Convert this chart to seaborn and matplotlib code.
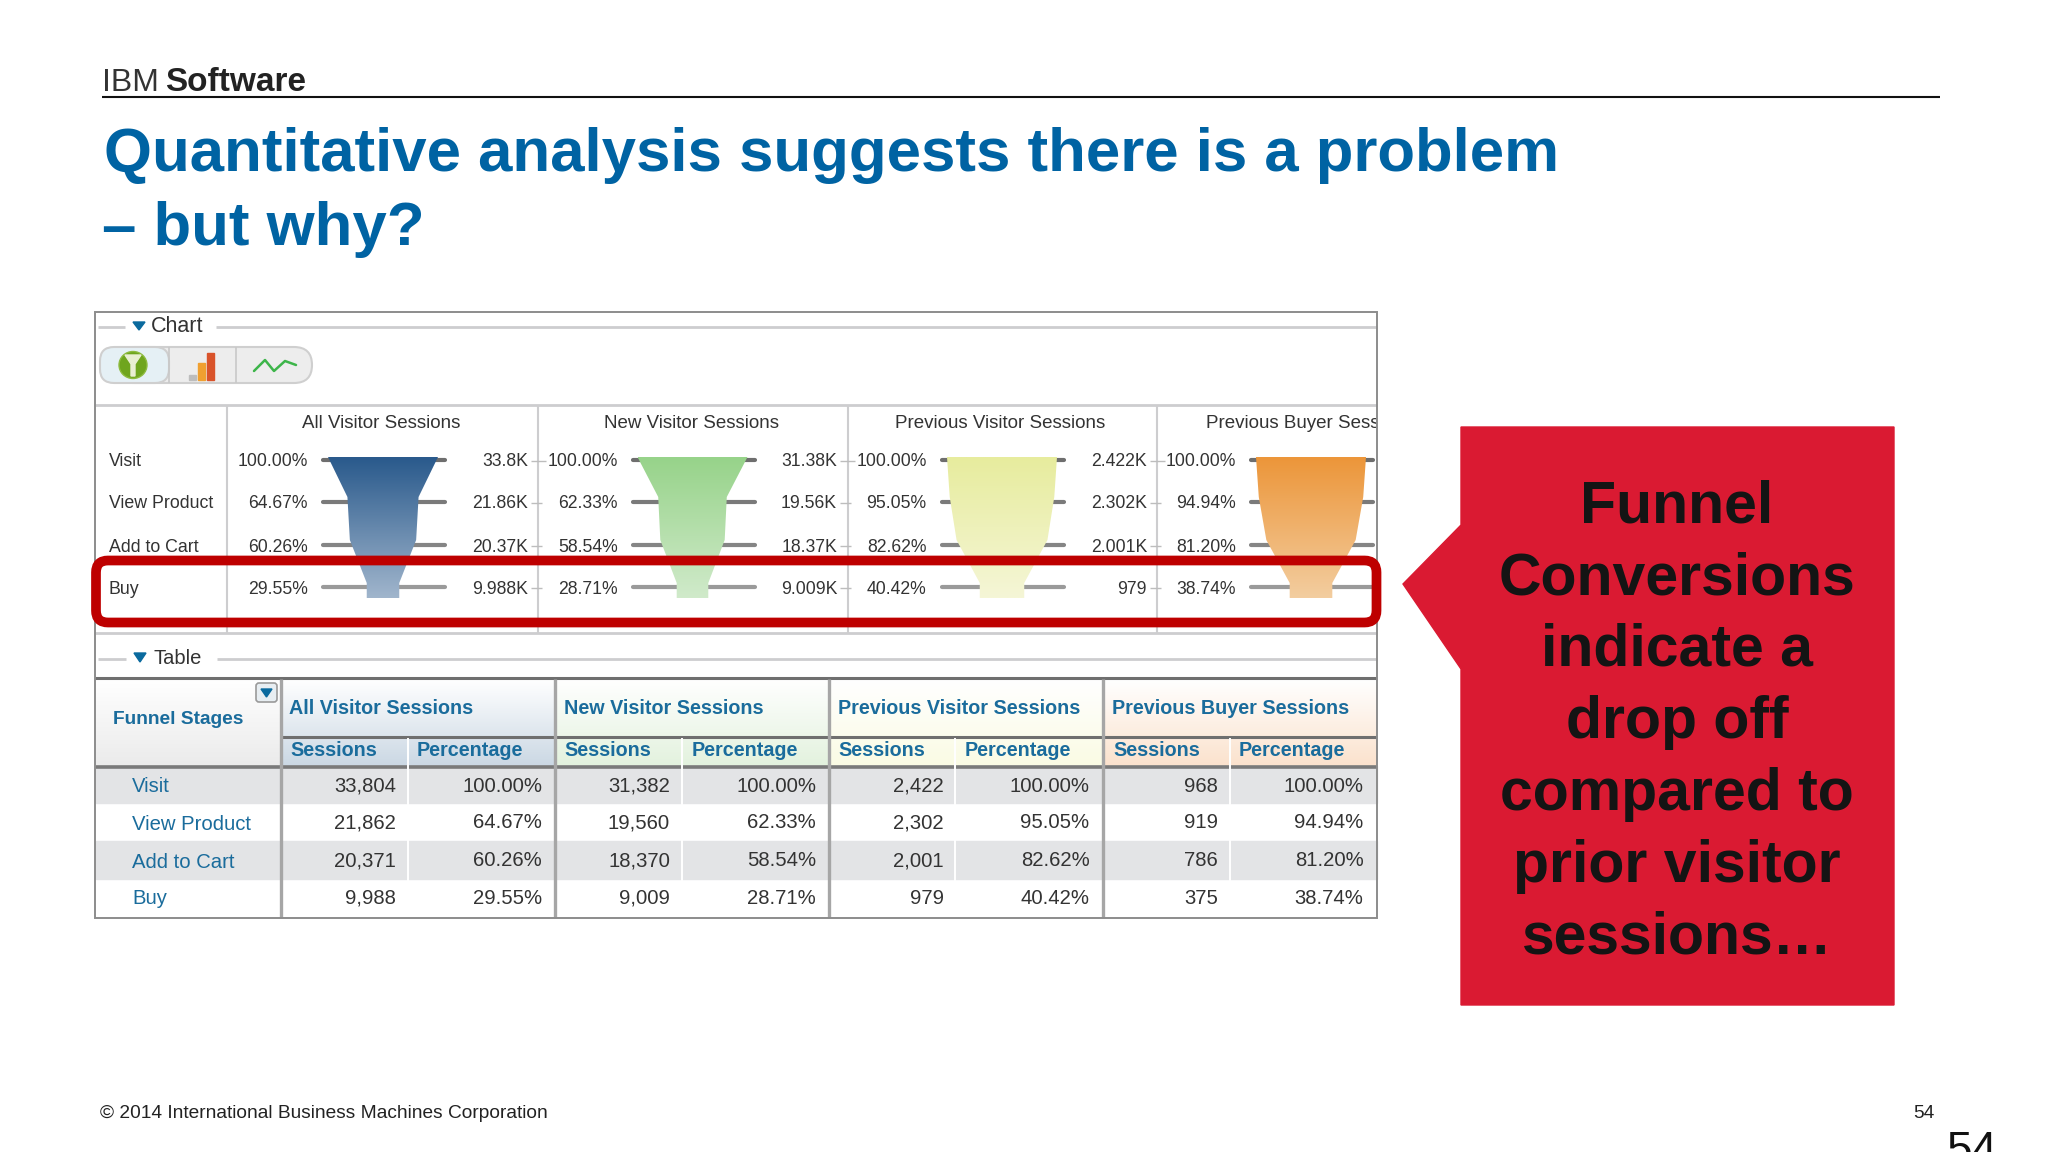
import numpy as np
import pandas as pd
import matplotlib
matplotlib.use('Agg')
import matplotlib.pyplot as plt
import seaborn as sns
from matplotlib.patches import Rectangle, Polygon, FancyBboxPatch, Ellipse

# === data ===
STAGES = ['Visit', 'View Product', 'Add to Cart', 'Buy']
SEGMENTS = ['All Visitor Sessions', 'New Visitor Sessions',
            'Previous Visitor Sessions', 'Previous Buyer Sessions']

SESSIONS_ALL = ['33,804', '21,862', '20,371', '9,988']
SESSIONS_NEW = ['31,382', '19,560', '18,370', '9,009']
SESSIONS_PREV = ['2,422', '2,302', '2,001', '979']
SESSIONS_BUYER = ['968', '919', '786', '375']

PCT_ALL = [100.00, 64.67, 60.26, 29.55]
PCT_NEW = [100.00, 62.33, 58.54, 28.71]
PCT_PREV = [100.00, 95.05, 82.62, 40.42]
PCT_BUYER = [100.00, 94.94, 81.20, 38.74]

SHORT_ALL = ['33.8K', '21.86K', '20.37K', '9.988K']
SHORT_NEW = ['31.38K', '19.56K', '18.37K', '9.009K']
SHORT_PREV = ['2.422K', '2.302K', '2.001K', '979']
SHORT_BUYER = ['968', '919', '786', '375']

ALL_SESSIONS = [SESSIONS_ALL, SESSIONS_NEW, SESSIONS_PREV, SESSIONS_BUYER]
ALL_PCT = [PCT_ALL, PCT_NEW, PCT_PREV, PCT_BUYER]
ALL_SHORT = [SHORT_ALL, SHORT_NEW, SHORT_PREV, SHORT_BUYER]

CALLOUT = ['Funnel', 'Conversions', 'indicate a', 'drop off',
           'compared to', 'prior visitor', 'sessions…']

# === colours ===
TITLE_BLUE = '#0063A3'
LINK_BLUE = '#1A6C9C'
TXT = '#333333'
RED = '#DA1A32'
BOX_RED = '#BE0000'
FRAME = '#8C8C8C'
LIGHT = '#CDCDCF'
BAND = '#E3E4E6'
FUNNEL_COLS = [('#2A5A8C', '#A0B5CC'), ('#97D38A', '#D0EACA'),
               ('#E7EC9E', '#F5F6D6'), ('#EC963A', '#F3CD9F')]
HEAD_COLS = ['#CBD8E4', '#E3F2DE', '#FAFBE4', '#FBE2CD']
LINE_COLS = dict(zip(STAGES, ['#6E6E6E', '#7A7A7A', '#858585', '#9A9A9A']))

sns.set_theme(style='white')
plt.rcParams['font.family'] = ['Liberation Sans', 'DejaVu Sans']

W, H = 2048, 1152
fig = plt.figure(figsize=(W / 100, H / 100), dpi=100, facecolor='white')
ax = fig.add_axes([0, 0, 1, 1])


def vgrad(x0, x1, y0, y1, c0, c1, clip=None, z=1):
    cols = np.array(sns.blend_palette([c0, c1], 64))[:, None, :]
    im = ax.imshow(cols, extent=(x0, x1, y1, y0), aspect='auto',
                   origin='upper', interpolation='bilinear', zorder=z)
    if clip is not None:
        clip.set_transform(ax.transData)
        im.set_clip_path(clip)
    return im


def hline(x0, x1, y, color, lw, z=3):
    ax.plot([x0, x1], [y, y], color=color, lw=lw, zorder=z, solid_capstyle='butt')


def vline(x, y0, y1, color, lw, z=3):
    ax.plot([x, x], [y0, y1], color=color, lw=lw, zorder=z, solid_capstyle='butt')


# ── slide header ──
ax.text(102, 91, 'IBM', fontsize=23, color='#333333', va='baseline')
ax.text(165, 91, 'Software', fontsize=24, fontweight='bold', color='#222222', va='baseline')
hline(102, 1940, 97, '#111111', 1.5)
ax.text(104, 171, 'Quantitative analysis suggests there is a problem', fontsize=44.5,
        fontweight='bold', color=TITLE_BLUE, va='baseline')
ax.text(102, 245, '– but why?', fontsize=44.5, fontweight='bold',
        color=TITLE_BLUE, va='baseline')

# ── outer frame ──
ax.add_patch(Rectangle((95, 312), 1282, 606, fc='white', ec='none', zorder=0.5))
ax.add_patch(Rectangle((95, 312), 1282, 606, fc='none', ec=FRAME, lw=1.4, zorder=5))

# ── chart section ──
hline(216, 1377, 327, LIGHT, 2)
hline(98, 125, 327, LIGHT, 2)
ax.add_patch(Polygon([(133, 322), (145, 322), (139, 330)], color='#0A6A9E', zorder=3))
ax.text(151, 327, 'Chart', fontsize=15.5, color=TXT, va='center')

# toolbar icons
ax.add_patch(FancyBboxPatch((116, 347), 196, 36, boxstyle='round,pad=0,rounding_size=18',
                            fc='#EDEDED', ec='#CFCFCF', lw=1.5, zorder=2,
                            mutation_aspect=1))
ax.add_patch(FancyBboxPatch((100, 347), 69, 36, boxstyle='round,pad=0,rounding_size=14',
                            fc='#E5F0F5', ec='#CFCFCF', lw=1.5, zorder=2.1))
vline(169, 347, 383, '#C8C8C8', 1.2)
vline(236, 347, 383, '#C8C8C8', 1.2)
ax.add_patch(Ellipse((133, 365), 28, 27, fc='#6FA51E', ec='#8DBB3E', lw=1, zorder=3))
ax.add_patch(Polygon([(125, 355), (141, 355), (135, 364), (135, 376), (131, 376), (131, 364)],
                     color='#E9EFD2', zorder=4))
for bx, tp, col in [(189, 375, '#BDBDBD'), (198, 363, '#F0A030'), (207, 353, '#D9532A')]:
    ax.add_patch(Rectangle((bx, tp), 7, 380 - tp, color=col, zorder=3))
ax.plot([254, 265, 274, 285, 296], [371, 360, 371, 361, 365], color='#3DB54A', lw=1.8, zorder=3)

# ── funnel panels ──
hline(95, 1377, 405, LIGHT, 2)
hline(95, 1377, 633, LIGHT, 2)
for x in [227, 538, 848, 1157]:
    vline(x, 405, 633, LIGHT, 1.5)

ROW_Y = [460, 502, 545, 587]
TXT_Y = [462, 504, 547, 589]
FUNNEL_CX = [383, 692.5, 1002, 1311]
FUNNEL_W = 110
PCT_X = [308, 618, 926.5, 1236]
VAL_X = [528, 837, 1147, None]
TITLE_CX = [381, 691, 1000, 1310]
clip_rect = Rectangle((95, 405), 1282, 100, transform=ax.transData)

for label, y in zip(STAGES, TXT_Y):
    ax.text(109, y, label, fontsize=12.8, color=TXT, va='center')

for i, seg in enumerate(SEGMENTS):
    cx = FUNNEL_CX[i]
    t = ax.text(TITLE_CX[i], 424, seg, fontsize=13.5, color=TXT, ha='center', va='center', clip_on=True)
    t.set_clip_path(clip_rect)

    # stage lines behind each funnel
    line_df = pd.DataFrame({
        'x': [cx - 60, cx + 62] * 4,
        'y': np.repeat(ROW_Y, 2),
        'stage': np.repeat(STAGES, 2),
    })
    sns.lineplot(data=line_df, x='x', y='y', hue='stage', palette=LINE_COLS, units='stage',
                 estimator=None, linewidth=3, legend=False, ax=ax, zorder=2)

    # funnel outline comes from the percentages
    pct = np.array(ALL_PCT[i]) / 100 * FUNNEL_W / 2
    ys = [457, 497, 540, 583, 598]
    hw = [pct[0], pct[1], pct[2], pct[3], pct[3]]
    pts = [(cx - w, y) for w, y in zip(hw, ys)] + [(cx + w, y) for w, y in zip(hw[::-1], ys[::-1])]
    poly = Polygon(pts, closed=True, fc='none', ec='none')
    ax.add_patch(poly)
    vgrad(cx - FUNNEL_W / 2, cx + FUNNEL_W / 2, 457, 598, *FUNNEL_COLS[i], clip=poly, z=2.5)

    for j, y in enumerate(TXT_Y):
        ax.text(PCT_X[i], y, f'{ALL_PCT[i][j]:.2f}%', fontsize=12.7, color=TXT, ha='right', va='center')
        if VAL_X[i] is not None:
            ax.text(VAL_X[i], y, ALL_SHORT[i][j], fontsize=12.7, color=TXT, ha='right', va='center')
            hline(VAL_X[i] + 3, VAL_X[i] + 18 - 18 * (j > 0) * 0.25, y - 1, '#BDBDBD', 1)

# highlight box
ax.add_patch(FancyBboxPatch((96, 560.5), 1280.5, 62, boxstyle='round,pad=0,rounding_size=12',
                            fc='none', ec=BOX_RED, lw=7, zorder=6, mutation_aspect=1))

# ── table section ──
hline(217, 1377, 659, LIGHT, 2)
hline(98, 126, 659, LIGHT, 2)
ax.add_patch(Polygon([(134, 653), (146, 653), (140, 662)], color='#0A6A9E', zorder=3))
ax.text(154, 659, 'Table', fontsize=14.5, color=TXT, va='center')

GROUP_X = [281, 554.5, 829, 1103, 1377]
SUB_X = [408, 682, 955, 1230]
GROUP_TXT = [289, 563.5, 838, 1112]
SESS_TXT = [290, 564, 838, 1113]
PERC_TXT = [417, 691.5, 965, 1239]
SESS_R = [396, 670, 944, 1218]
PERC_R = [542, 816, 1089.5, 1363.5]
ROW_EDGE = [766, 803, 841, 879, 917]
ROW_LABEL_Y = [787, 824, 862, 899]
ROW_VALUE_Y = [786, 823, 861, 898]

vgrad(96, 280, 679, 766, '#FFFFFF', '#EBEBEB')
for i in range(4):
    vgrad(GROUP_X[i], GROUP_X[i + 1], 679, 766, '#FFFFFF', HEAD_COLS[i])
for j in [0, 2]:
    ax.add_patch(Rectangle((96, ROW_EDGE[j]), 1281, ROW_EDGE[j + 1] - ROW_EDGE[j], color=BAND, zorder=1.5))

hline(95, 1377, 678, '#6F6F6F', 2.2)
hline(281, 1377, 737, '#6F6F6F', 2.2)
hline(96, 1377, 767, '#7A7A7A', 2.6)
for x in GROUP_X[:-1]:
    vline(x, 679, 917, '#A6A6A6', 2.4)
for x in SUB_X:
    vline(x, 738, 917, '#FFFFFF', 1.4)

ax.text(113, 720, 'Funnel Stages', fontsize=13.8, fontweight='bold', color=LINK_BLUE, va='center')
ax.add_patch(FancyBboxPatch((256, 683), 21, 19, boxstyle='round,pad=0,rounding_size=3',
                            fc='#E8EEF2', ec='#9A9A9A', lw=1.2, zorder=4))
ax.add_patch(Polygon([(261, 689), (272, 689), (266.5, 697)], color='#0A6A9E', zorder=5))

for label, y in zip(STAGES, ROW_LABEL_Y):
    ax.text(132, y, label, fontsize=14.6, color=LINK_BLUE, va='center')

for i, seg in enumerate(SEGMENTS):
    ax.text(GROUP_TXT[i], 708, seg, fontsize=14.2, fontweight='bold', color=LINK_BLUE, va='center')
    ax.text(SESS_TXT[i], 751, 'Sessions', fontsize=14.2, fontweight='bold', color=LINK_BLUE, va='center')
    ax.text(PERC_TXT[i], 751, 'Percentage', fontsize=14.2, fontweight='bold', color=LINK_BLUE, va='center')
    for j, y in enumerate(ROW_VALUE_Y):
        ax.text(SESS_R[i], y, ALL_SESSIONS[i][j], fontsize=14.6, color=TXT, ha='right', va='center')
        ax.text(PERC_R[i], y, f'{ALL_PCT[i][j]:.2f}%', fontsize=14.6, color=TXT, ha='right', va='center')

# ── callout ──
ax.add_patch(Polygon([(1461, 427), (1894, 427), (1894, 1005), (1461, 1005), (1461, 669),
                      (1403, 584), (1461, 525)], color=RED, zorder=2))
for line, y in zip(CALLOUT, [507, 579, 650, 722, 794, 866, 938]):
    ax.text(1677, y, line, fontsize=42.5, fontweight='bold', color='#141414',
            ha='center', va='center', zorder=3)

# ── footer ──
ax.text(100, 1114, '© 2014 International Business Machines Corporation', fontsize=13.8,
        color='#222222', va='center')
ax.text(1913, 1114, '54', fontsize=13.8, color='#222222', va='center')
ax.text(1946, 1164, '54', fontsize=33, color='#111111', va='baseline')

ax.set_xlim(0, W)
ax.set_ylim(H, 0)
ax.set_axis_off()
fig.savefig('out.png', dpi=100, facecolor='white')
